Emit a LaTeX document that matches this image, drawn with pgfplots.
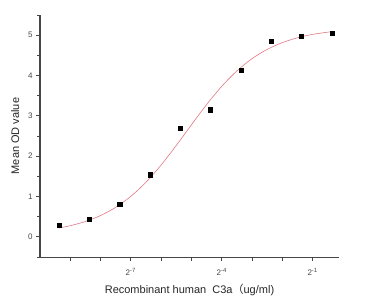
\documentclass[border=0pt]{standalone}
\usepackage{pgfplots}
\pgfplotsset{compat=1.18}
\usepackage{fontspec}
\setmainfont{Liberation Sans}
\newfontfamily\cjk{Noto Sans CJK SC}
\definecolor{fitred}{RGB}{225,120,130}
\definecolor{axgray}{RGB}{70,70,70}
\begin{document}
\begin{tikzpicture}
\begin{axis}[
  scale only axis,
  width=299pt, height=242pt,
  xmin=-10, xmax=-0.13,
  ymin=-0.5, ymax=5.5,
  axis lines*=left,
  axis line style={axgray, line width=1pt},
  every tick/.style={axgray, line width=0.8pt},
  tick align=outside,
  major tick length=4pt,
  minor tick length=2.5pt,
  xtick={-9,-8,-7,-6,-5,-4,-3,-2,-1},
  xticklabels={,,2\textsuperscript{-7},,,2\textsuperscript{-4},,,2\textsuperscript{-1}},
  ytick={0,1,2,3,4,5},
  minor ytick={-0.5,0.5,1.5,2.5,3.5,4.5,5.5},
  tick label style={font=\fontsize{8}{9}\selectfont, text=axgray},
  xticklabel style={yshift=-4pt},
  /pgf/number format/assume math mode=true,
  xlabel={Recombinant human\ \ C3a{\cjk （}ug/ml)},
  ylabel={Mean OD value},
  label style={font=\fontsize{11}{13}\selectfont, text=black!85},
  xlabel style={yshift=-2pt},
  ylabel style={yshift=2pt},
  clip=false,
]
\addplot[fitred, line width=0.6pt, smooth] coordinates {
(-9.37,0.22) (-9,0.276) (-8.5,0.381) (-8,0.528) (-7.5,0.732) (-7,1.005)
(-6.5,1.355) (-6,1.782) (-5.5,2.267) (-5,2.779) (-4.5,3.280) (-4,3.733)
(-3.5,4.114) (-3,4.418) (-2.5,4.648) (-2,4.816) (-1.5,4.936) (-1,5.020)
(-0.35,5.09)
};
\addplot[only marks, mark=square*, mark size=2.1pt, black] coordinates {
(-9.37,0.28) (-8.37,0.44) (-7.37,0.80) (-6.37,1.54) (-5.37,2.70)
(-4.37,3.15) (-3.37,4.13) (-2.37,4.86) (-1.37,4.98) (-0.35,5.04)
};
\end{axis}
\path[use as bounding box] ([xshift=-40pt,yshift=-40pt]current axis.south west) rectangle ([xshift=37pt,yshift=15pt]current axis.north east);
\end{tikzpicture}
\end{document}
